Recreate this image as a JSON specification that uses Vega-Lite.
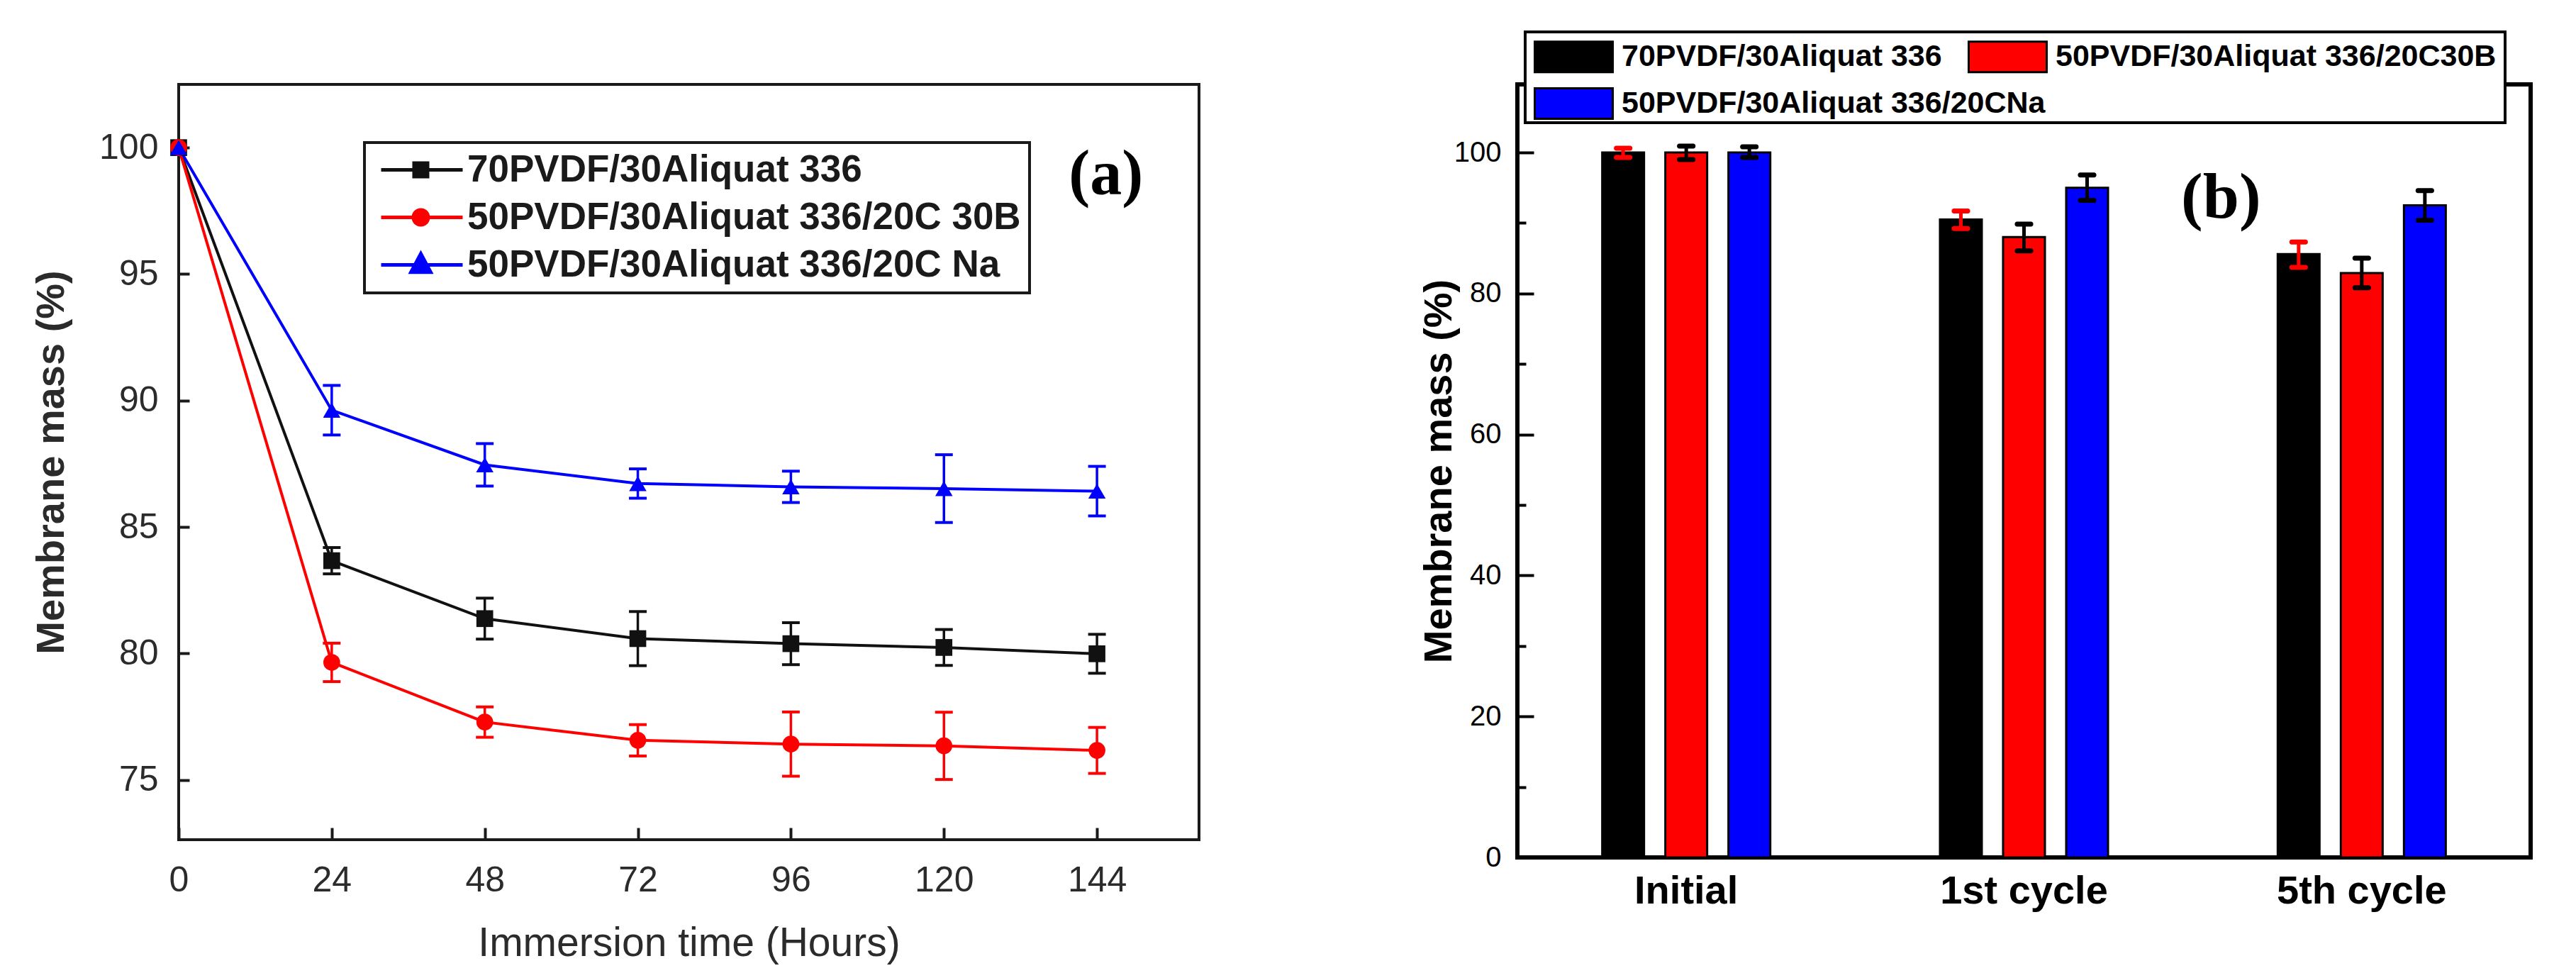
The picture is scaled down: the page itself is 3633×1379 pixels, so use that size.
{
  "$schema": "https://vega.github.io/schema/vega-lite/v6.json",
  "background": "white",
  "padding": {"left": 42, "top": 40, "right": 10, "bottom": 10},
  "bounds": "flush",
  "spacing": 449,
  "config": {"legend": {"strokeWidth": 4}},
  "resolve": {
    "scale": {"color": "independent", "stroke": "independent", "shape": "independent", "y": "independent", "x": "independent"},
    "legend": {"color": "independent", "stroke": "independent", "shape": "independent"}
  },
  "hconcat": [
    {
      "width": 1439,
      "height": 1065,
      "view": {"stroke": "#1a1a1a", "strokeWidth": 4},
      "data": {
        "values": [
          {"t": 0, "s": "70PVDF/30Aliquat 336", "m": 100},
          {"t": 24, "s": "70PVDF/30Aliquat 336", "m": 83.67, "lo": 83.15, "hi": 84.19},
          {"t": 48, "s": "70PVDF/30Aliquat 336", "m": 81.38, "lo": 80.57, "hi": 82.19},
          {"t": 72, "s": "70PVDF/30Aliquat 336", "m": 80.59, "lo": 79.52, "hi": 81.66},
          {"t": 96, "s": "70PVDF/30Aliquat 336", "m": 80.39, "lo": 79.56, "hi": 81.22},
          {"t": 120, "s": "70PVDF/30Aliquat 336", "m": 80.24, "lo": 79.53, "hi": 80.95},
          {"t": 144, "s": "70PVDF/30Aliquat 336", "m": 79.99, "lo": 79.22, "hi": 80.76},
          {"t": 0, "s": "50PVDF/30Aliquat 336/20C 30B", "m": 100},
          {"t": 24, "s": "50PVDF/30Aliquat 336/20C 30B", "m": 79.65, "lo": 78.89, "hi": 80.41},
          {"t": 48, "s": "50PVDF/30Aliquat 336/20C 30B", "m": 77.29, "lo": 76.69, "hi": 77.89},
          {"t": 72, "s": "50PVDF/30Aliquat 336/20C 30B", "m": 76.57, "lo": 75.95, "hi": 77.19},
          {"t": 96, "s": "50PVDF/30Aliquat 336/20C 30B", "m": 76.42, "lo": 75.15, "hi": 77.69},
          {"t": 120, "s": "50PVDF/30Aliquat 336/20C 30B", "m": 76.35, "lo": 75.02, "hi": 77.68},
          {"t": 144, "s": "50PVDF/30Aliquat 336/20C 30B", "m": 76.17, "lo": 75.26, "hi": 77.08},
          {"t": 0, "s": "50PVDF/30Aliquat 336/20C Na", "m": 100},
          {"t": 24, "s": "50PVDF/30Aliquat 336/20C Na", "m": 89.62, "lo": 88.64, "hi": 90.6},
          {"t": 48, "s": "50PVDF/30Aliquat 336/20C Na", "m": 87.46, "lo": 86.62, "hi": 88.3},
          {"t": 72, "s": "50PVDF/30Aliquat 336/20C Na", "m": 86.72, "lo": 86.14, "hi": 87.3},
          {"t": 96, "s": "50PVDF/30Aliquat 336/20C Na", "m": 86.59, "lo": 85.97, "hi": 87.21},
          {"t": 120, "s": "50PVDF/30Aliquat 336/20C Na", "m": 86.52, "lo": 85.18, "hi": 87.86},
          {"t": 144, "s": "50PVDF/30Aliquat 336/20C Na", "m": 86.42, "lo": 85.44, "hi": 87.4}
        ]
      },
      "encoding": {
        "x": {
          "field": "t",
          "type": "quantitative",
          "title": "Immersion time (Hours)",
          "scale": {"domain": [0, 160], "nice": false, "zero": false},
          "axis": {
            "values": [0, 24, 48, 72, 96, 120, 144],
            "grid": false,
            "domain": false,
            "labelFlush": false,
            "tickSize": -17,
            "tickWidth": 4,
            "tickColor": "#1a1a1a",
            "labelFont": "Liberation Sans",
            "labelFontSize": 50,
            "labelColor": "#2b2b2b",
            "labelPadding": 49,
            "titleFont": "Liberation Sans",
            "titleFontSize": 57,
            "titleFontWeight": "normal",
            "titleColor": "#2b2b2b",
            "titlePadding": 36
          }
        },
        "color": {
          "field": "s",
          "type": "nominal",
          "scale": {
            "domain": ["70PVDF/30Aliquat 336", "50PVDF/30Aliquat 336/20C 30B", "50PVDF/30Aliquat 336/20C Na"],
            "range": ["#111111", "#ff0000", "#0000ff"]
          },
          "legend": {
            "orient": "none",
            "legendX": 262,
            "legendY": 82,
            "title": null,
            "padding": 12,
            "rowPadding": 13,
            "symbolSize": 900,
            "symbolOpacity": 1,
            "symbolFillColor": "#111111",
            "symbolStrokeWidth": 0,
            "labelOffset": 80,
            "labelFont": "Liberation Sans",
            "labelFontSize": 53,
            "labelFontWeight": "bold",
            "labelColor": "#1a1a1a",
            "labelLimit": 2000,
            "fillColor": "white",
            "strokeColor": "#1a1a1a"
          }
        }
      },
      "layer": [
        {
          "mark": {"type": "line", "strokeWidth": 4},
          "encoding": {
            "y": {
              "field": "m",
              "type": "quantitative",
              "title": "Membrane mass (%)",
              "scale": {"domain": [72.64, 102.5], "nice": false, "zero": false},
              "axis": {
                "values": [75, 80, 85, 90, 95, 100],
                "grid": false,
                "domain": false,
                "tickSize": -15,
                "tickWidth": 4,
                "tickColor": "#1a1a1a",
                "labelFont": "Liberation Sans",
                "labelFontSize": 50,
                "labelColor": "#2b2b2b",
                "labelPadding": 44,
                "titleFont": "Liberation Sans",
                "titleFontSize": 56,
                "titleFontWeight": "bold",
                "titleColor": "#2b2b2b",
                "titlePadding": 38
              }
            }
          }
        },
        {
          "mark": {"type": "rule", "strokeWidth": 3.5},
          "encoding": {
            "y": {"field": "lo", "type": "quantitative", "title": "Membrane mass (%)"},
            "y2": {"field": "hi"}
          }
        },
        {
          "mark": {"type": "tick", "orient": "horizontal", "size": 25, "thickness": 4, "opacity": 1},
          "encoding": {"y": {"field": "lo", "type": "quantitative", "title": "Membrane mass (%)"}}
        },
        {
          "mark": {"type": "tick", "orient": "horizontal", "size": 25, "thickness": 4, "opacity": 1},
          "encoding": {"y": {"field": "hi", "type": "quantitative", "title": "Membrane mass (%)"}}
        },
        {
          "transform": [{"filter": "datum.s === '70PVDF/30Aliquat 336'"}],
          "mark": {"type": "point", "shape": "square", "filled": true, "size": 560, "opacity": 1},
          "encoding": {"y": {"field": "m", "type": "quantitative", "title": "Membrane mass (%)"}}
        },
        {
          "transform": [{"filter": "datum.s === '50PVDF/30Aliquat 336/20C 30B'"}],
          "mark": {"type": "point", "shape": "circle", "filled": true, "size": 560, "opacity": 1},
          "encoding": {"y": {"field": "m", "type": "quantitative", "title": "Membrane mass (%)"}}
        },
        {
          "transform": [{"filter": "datum.s === '50PVDF/30Aliquat 336/20C Na'"}],
          "mark": {"type": "point", "shape": "triangle-up", "filled": true, "size": 600, "opacity": 1},
          "encoding": {"y": {"field": "m", "type": "quantitative", "title": "Membrane mass (%)"}}
        },
        {
          "mark": {"type": "point", "filled": true, "size": 900, "opacity": 0},
          "encoding": {
            "y": {"field": "m", "type": "quantitative", "title": "Membrane mass (%)"},
            "shape": {
              "field": "s",
              "type": "nominal",
              "scale": {
                "domain": ["70PVDF/30Aliquat 336", "50PVDF/30Aliquat 336/20C 30B", "50PVDF/30Aliquat 336/20C Na"],
                "range": [
                  "M-1,-0.167H6.667V0.167H-1Z M1.933,-0.8H3.533V0.8H1.933Z",
                  "M-1,-0.167H6.667V0.167H-1Z M1.866,0A0.867,0.867 0 1,1 3.6,0A0.867,0.867 0 1,1 1.866,0Z",
                  "M-1,-0.167H6.667V0.167H-1Z M2.733,-1.4L3.933,0.85H1.533Z"
                ]
              },
              "legend": {
                "orient": "none",
                "legendX": 262,
                "legendY": 82,
                "title": null,
                "padding": 12,
                "rowPadding": 13,
                "symbolSize": 900,
                "symbolOpacity": 1,
                "symbolFillColor": "#111111",
                "symbolStrokeWidth": 0,
                "labelOffset": 80,
                "labelFont": "Liberation Sans",
                "labelFontSize": 53,
                "labelFontWeight": "bold",
                "labelColor": "#1a1a1a",
                "labelLimit": 2000,
                "fillColor": "white",
                "strokeColor": "#1a1a1a"
              }
            }
          }
        },
        {
          "data": {"values": [{"t": 145.4, "m": 98.9, "txt": "(a)"}]},
          "mark": {"type": "text", "font": "Liberation Serif", "fontSize": 90, "fontWeight": "bold", "align": "center", "baseline": "middle"},
          "encoding": {
            "y": {"field": "m", "type": "quantitative", "title": "Membrane mass (%)"},
            "text": {"field": "txt"},
            "color": {"value": "black"}
          }
        }
      ]
    },
    {
      "width": 1429,
      "height": 1090,
      "view": {"stroke": "black", "strokeWidth": 6},
      "data": {
        "values": [
          {"c": "Initial", "s": "70PVDF/30Aliquat 336", "m": 100, "lo": 99.3, "hi": 100.6},
          {"c": "Initial", "s": "50PVDF/30Aliquat 336/20C30B", "m": 100, "lo": 99.0, "hi": 100.9},
          {"c": "Initial", "s": "50PVDF/30Aliquat 336/20CNa", "m": 100, "lo": 99.3, "hi": 100.8},
          {"c": "1st cycle", "s": "70PVDF/30Aliquat 336", "m": 90.5, "lo": 89.2, "hi": 91.7},
          {"c": "1st cycle", "s": "50PVDF/30Aliquat 336/20C30B", "m": 88.0, "lo": 86.05, "hi": 89.85},
          {"c": "1st cycle", "s": "50PVDF/30Aliquat 336/20CNa", "m": 95.0, "lo": 93.2, "hi": 96.8},
          {"c": "5th cycle", "s": "70PVDF/30Aliquat 336", "m": 85.6, "lo": 83.7, "hi": 87.3},
          {"c": "5th cycle", "s": "50PVDF/30Aliquat 336/20C30B", "m": 82.9, "lo": 80.8, "hi": 85.0},
          {"c": "5th cycle", "s": "50PVDF/30Aliquat 336/20CNa", "m": 92.5, "lo": 90.4, "hi": 94.6}
        ]
      },
      "encoding": {
        "x": {
          "field": "c",
          "type": "nominal",
          "sort": ["Initial", "1st cycle", "5th cycle"],
          "title": null,
          "scale": {"paddingInner": 0.4394, "paddingOuter": 0.2197},
          "axis": {
            "ticks": false,
            "domain": false,
            "labelAngle": 0,
            "labelLimit": 1000,
            "labelFont": "Liberation Sans",
            "labelFontSize": 56,
            "labelFontWeight": "bold",
            "labelColor": "black",
            "labelPadding": 20
          }
        },
        "xOffset": {
          "field": "s",
          "type": "nominal",
          "sort": ["70PVDF/30Aliquat 336", "50PVDF/30Aliquat 336/20C30B", "50PVDF/30Aliquat 336/20CNa"],
          "scale": {"paddingInner": 0.337, "paddingOuter": 0.1685}
        }
      },
      "layer": [
        {
          "mark": {"type": "bar", "stroke": "black", "strokeWidth": 3},
          "encoding": {
            "y": {
              "field": "m",
              "type": "quantitative",
              "title": "Membrane mass (%)",
              "scale": {"domain": [0, 109.66], "nice": false},
              "axis": {
                "values": [0, 10, 20, 30, 40, 50, 60, 70, 80, 90, 100],
                "labelExpr": "datum.value % 20 === 0 ? datum.label : ''",
                "tickSize": {"condition": {"test": "datum.value % 20 === 0", "value": -23}, "value": -12},
                "tickWidth": 4,
                "tickColor": "black",
                "grid": false,
                "domain": false,
                "labelFont": "Liberation Sans",
                "labelFontSize": 40,
                "labelColor": "black",
                "labelPadding": 46,
                "titleFont": "Liberation Sans",
                "titleFontSize": 56,
                "titleFontWeight": "bold",
                "titleColor": "black",
                "titlePadding": -8
              }
            },
            "color": {
              "field": "s",
              "type": "nominal",
              "scale": {
                "domain": ["70PVDF/30Aliquat 336", "50PVDF/30Aliquat 336/20C30B", "50PVDF/30Aliquat 336/20CNa"],
                "range": ["black", "#ff0000", "#0000ff"]
              },
              "legend": {
                "orient": "none",
                "legendX": 11,
                "legendY": -74,
                "title": " ",
                "titleOrient": "bottom",
                "titleFontSize": 43,
                "titlePadding": 10,
                "values": ["70PVDF/30Aliquat 336", "50PVDF/30Aliquat 336/20C30B"],
                "direction": "horizontal",
                "columnPadding": 31,
                "padding": 12,
                "symbolType": "M-1,-1H4.116V1H-1Z",
                "symbolSize": 1849,
                "symbolStrokeColor": "black",
                "symbolStrokeWidth": 3,
                "symbolOpacity": 1,
                "labelOffset": 78,
                "labelFont": "Liberation Sans",
                "labelFontSize": 43,
                "labelFontWeight": "bold",
                "labelColor": "black",
                "labelLimit": 2000,
                "fillColor": "white",
                "strokeColor": "black"
              }
            }
          }
        },
        {
          "transform": [{"filter": "datum.s === '50PVDF/30Aliquat 336/20CNa'"}],
          "mark": {"type": "bar", "fill": "#0000ff", "opacity": 0},
          "encoding": {
            "y": {"field": "m", "type": "quantitative", "title": "Membrane mass (%)"},
            "stroke": {
              "field": "s",
              "type": "nominal",
              "scale": {"domain": ["50PVDF/30Aliquat 336/20CNa"], "range": ["black"]},
              "legend": {
                "orient": "none",
                "legendX": 23,
                "legendY": 4,
                "title": null,
                "padding": 0,
                "symbolType": "M-1,-1H4.116V1H-1Z",
                "symbolSize": 1849,
                "symbolStrokeWidth": 3,
                "symbolOpacity": 1,
                "labelOffset": 78,
                "labelFont": "Liberation Sans",
                "labelFontSize": 43,
                "labelFontWeight": "bold",
                "labelColor": "black",
                "labelLimit": 2000,
                "fillColor": "transparent",
                "strokeColor": "transparent"
              }
            }
          }
        },
        {
          "transform": [{"filter": "datum.s === '70PVDF/30Aliquat 336'"}],
          "layer": [
            {
              "mark": {"type": "rule", "strokeWidth": 5, "color": "#ff0000"},
              "encoding": {
                "y": {"field": "lo", "type": "quantitative", "title": "Membrane mass (%)"},
                "y2": {"field": "hi"}
              }
            },
            {
              "mark": {"type": "tick", "orient": "horizontal", "size": 26, "thickness": 7, "cornerRadius": 3, "opacity": 1, "color": "#ff0000"},
              "encoding": {"y": {"field": "lo", "type": "quantitative", "title": "Membrane mass (%)"}}
            },
            {
              "mark": {"type": "tick", "orient": "horizontal", "size": 26, "thickness": 7, "cornerRadius": 3, "opacity": 1, "color": "#ff0000"},
              "encoding": {"y": {"field": "hi", "type": "quantitative", "title": "Membrane mass (%)"}}
            }
          ]
        },
        {
          "transform": [{"filter": "datum.s !== '70PVDF/30Aliquat 336'"}],
          "layer": [
            {
              "mark": {"type": "rule", "strokeWidth": 5, "color": "black"},
              "encoding": {
                "y": {"field": "lo", "type": "quantitative", "title": "Membrane mass (%)"},
                "y2": {"field": "hi"}
              }
            },
            {
              "mark": {"type": "tick", "orient": "horizontal", "size": 26, "thickness": 7, "cornerRadius": 3, "opacity": 1, "color": "black"},
              "encoding": {"y": {"field": "lo", "type": "quantitative", "title": "Membrane mass (%)"}}
            },
            {
              "mark": {"type": "tick", "orient": "horizontal", "size": 26, "thickness": 7, "cornerRadius": 3, "opacity": 1, "color": "black"},
              "encoding": {"y": {"field": "hi", "type": "quantitative", "title": "Membrane mass (%)"}}
            }
          ]
        },
        {
          "data": {"values": [{"c": "5th cycle", "m": 93.6, "txt": "(b)"}]},
          "mark": {"type": "text", "font": "Liberation Serif", "fontSize": 92, "fontWeight": "bold", "align": "center", "baseline": "middle", "dx": -65, "color": "black"},
          "encoding": {
            "x": {"field": "c", "type": "nominal", "sort": ["Initial", "1st cycle", "5th cycle"], "bandPosition": 0},
            "xOffset": null,
            "y": {"field": "m", "type": "quantitative", "title": "Membrane mass (%)"},
            "text": {"field": "txt"}
          }
        }
      ]
    }
  ]
}
